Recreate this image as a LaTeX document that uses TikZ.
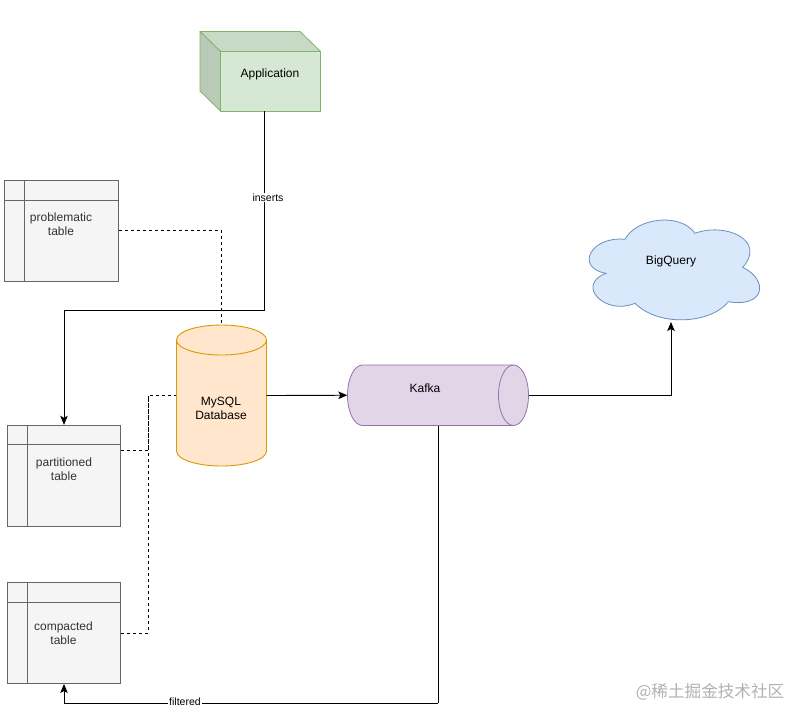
\documentclass[tikz,border=0pt]{standalone}
\usepackage{fontspec}
\setmainfont{Liberation Sans}
\newfontfamily\cjkwm{Noto Sans CJK SC}
\usetikzlibrary{shapes.geometric,arrows.meta}
\definecolor{tblfill}{HTML}{F5F5F5}
\definecolor{tblline}{HTML}{666666}
\definecolor{tbltext}{HTML}{333333}
\definecolor{appfill}{HTML}{D5E8D4}
\definecolor{appside}{HTML}{B9CBB8}
\definecolor{apptop}{HTML}{C7DAC6}
\definecolor{appline}{HTML}{82B366}
\definecolor{dbfill}{HTML}{FFE6CC}
\definecolor{dbline}{HTML}{D79B00}
\definecolor{kfill}{HTML}{E1D5E7}
\definecolor{kline}{HTML}{9673A6}
\definecolor{cfill}{HTML}{DAE8FC}
\definecolor{cline}{HTML}{6C8EBF}
\tikzset{
  x=1pt,y=-1pt,
  every node/.style={font=\fontsize{12}{14}\selectfont,align=center,inner sep=0pt},
  tablebox/.style={draw=tblline,fill=tblfill,line width=0.9pt,minimum width=113pt,minimum height=101pt},
  tabletext/.style={text=tbltext},
  conn/.style={line width=0.9pt,draw=black},
  arrowed/.style={conn,-{Stealth[length=9pt,width=7.5pt,inset=2pt]}},
  dashline/.style={line width=0.9pt,draw=black,dash pattern=on 3pt off 3pt},
  edgelabel/.style={fill=white,font=\fontsize{10.5}{12}\selectfont,inner xsep=1pt,inner ysep=1pt},
}
\newcommand{\tablegrid}[1]{%
  \draw[tblline,line width=0.9pt] ([xshift=20pt]#1.north west) -- ([xshift=20pt]#1.south west);
  \draw[tblline,line width=0.9pt] ([yshift=-20pt]#1.north west) -- ([yshift=-20pt]#1.north east);
}
\begin{document}
\begin{tikzpicture}
\useasboundingbox (0,0) rectangle (805,721);
\fill[white] (0,0) rectangle (805,721);

% application cube
\filldraw[fill=apptop,draw=appline,line width=0.8pt,line join=round] (200,31.5) -- (300,31.5) -- (320.5,51.5) -- (220.5,51.5) -- cycle;
\filldraw[fill=appside,draw=appline,line width=0.8pt,line join=round] (200,31.5) -- (220.5,51.5) -- (220.5,111) -- (200,91) -- cycle;
\node[draw=appline,fill=appfill,line width=0.8pt,minimum width=100pt,minimum height=59.5pt] (appface) at (270.5,81.25) {};
\node (app) at (270,74.5) {Application};
\coordinate (appOut) at (264.5,111);

% tables
\node[tablebox,minimum width=114pt,minimum height=100.5pt] (prob) at (61.5,230.75) {};
\tablegrid{prob}
\node[tabletext] (probtext) at (61,224) {problematic\\table};
\node[tablebox] (part) at (64,475.75) {};
\tablegrid{part}
\node[tabletext] (parttext) at (64,469) {partitioned\\table};
\node[tablebox] (comp) at (64,633) {};
\tablegrid{comp}
\node[tabletext] (comptext) at (63.5,633) {compacted\\table};
\coordinate (partOut) at (120.5,450.5);

% database
\filldraw[fill=dbfill,draw=dbline,line width=0.9pt]
  (176.5,340) .. controls (176.5,331.7) and (196.5,325) .. (221.5,325)
  .. controls (246.5,325) and (266.5,331.7) .. (266.5,340)
  -- (266.5,451) .. controls (266.5,459.3) and (246.5,466) .. (221.5,466)
  .. controls (196.5,466) and (176.5,459.3) .. (176.5,451) -- cycle;
\draw[dbline,line width=0.9pt] (176.5,340) .. controls (176.5,348.3) and (196.5,355) .. (221.5,355)
  .. controls (246.5,355) and (266.5,348.3) .. (266.5,340);
\node[minimum width=90pt,minimum height=141pt] (db) at (221.5,395.5) {};
\node (dbtext) at (221,408) {MySQL\\Database};

% kafka
\filldraw[fill=kfill,draw=kline,line width=0.8pt]
  (362.5,365) -- (513.5,365) .. controls (521.8,365) and (528.5,378.5) .. (528.5,395.25)
  .. controls (528.5,412) and (521.8,425.5) .. (513.5,425.5)
  -- (362.5,425.5) .. controls (354.2,425.5) and (347.5,412) .. (347.5,395.25)
  .. controls (347.5,378.5) and (354.2,365) .. (362.5,365) -- cycle;
\draw[kline,line width=0.8pt] (513.5,365) .. controls (505.2,365) and (498.5,378.5) .. (498.5,395.25)
  .. controls (498.5,412) and (505.2,425.5) .. (513.5,425.5);
\node[minimum width=181pt,minimum height=60.5pt] (kafka) at (438,395.25) {};
\node (kafkatext) at (425,388) {Kafka};

% cloud
\filldraw[fill=cfill,draw=cline,line width=0.8pt]
  (625,239.3)
  .. controls (636,218) and (680,212) .. (695,233.3)
  .. controls (725,222) and (767,240) .. (742.7,267.3)
  .. controls (769,280) and (765,308) .. (728.3,301.7)
  .. controls (712,323) and (660,328) .. (635,303.3)
  .. controls (605,316) and (575,285) .. (606,273.3)
  .. controls (575,268) and (590,236) .. (625,239.3)
  -- cycle;
\node (cloud) at (671,261) {BigQuery};
\coordinate (cloudIn) at (671,322);

% connectors
\draw[arrowed] (appOut) -- (264.5,310.5) -| (part.north);
\node[edgelabel] (inserts) at (268,197.5) {inserts};
\draw[arrowed] (db.east) -- (kafka.west);
\draw[arrowed] (kafka.east) -| (cloudIn);
\draw[conn] (kafka.south) -- (438,703);
\draw[arrowed] (438,703) -- (64,703) -- (comp.south);
\node[edgelabel] (filtered) at (185,702) {filtered};
\draw[dashline] (prob.east) -| (db.north);
\draw[dashline] (partOut) -| (148,395.5) -- (db.west);
\draw[dashline] (comp.east) -| (148,395.5);

% watermark
\node[text=black!30,font=\cjkwm\fontsize{16.6}{18}\selectfont] (mark) at (710,692) {@稀土掘金技术社区};
\end{tikzpicture}
\end{document}
